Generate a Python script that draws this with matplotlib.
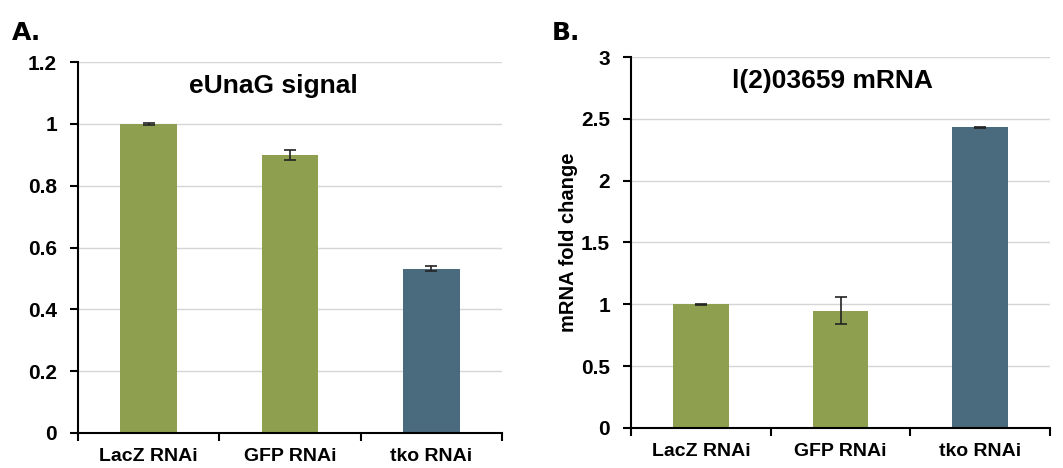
import matplotlib.pyplot as plt
from matplotlib.ticker import FixedLocator

plt.rcParams['font.family'] = ['Liberation Sans', 'DejaVu Sans']
plt.rcParams['font.weight'] = 'bold'

categories = ["LacZ RNAi", "GFP RNAi", "tko RNAi"]

signal_vals = [1.0, 0.90, 0.532]
signal_err = [0.003, 0.016, 0.008]

mrna_vals = [1.0, 0.948, 2.43]
mrna_err = [0.002, 0.11, 0.003]

green = "#8ea04f"
slate = "#4a6a7e"
bar_colors = [green, green, slate]

fig = plt.figure(figsize=(10.63, 4.68), dpi=100)
axA = fig.add_axes([0.0734, 0.0748, 0.3988, 0.7927])
axB = fig.add_axes([0.5936, 0.0855, 0.3942, 0.7927])


def style_axis(ax, vals, errs, ymax, ystep):
    x = list(range(len(vals)))
    ax.bar(x, vals, width=0.4, color=bar_colors, zorder=3)
    ax.errorbar(x, vals, yerr=errs, fmt="none", ecolor="#222222",
                elinewidth=1.2, capsize=4, capthick=1.2, zorder=4)
    ax.set_xlim(-0.5, len(vals) - 0.5)
    ax.set_ylim(0, ymax)
    ticks = [i * ystep for i in range(int(round(ymax / ystep)) + 1)]
    ax.set_yticks(ticks)
    ax.set_yticklabels([("%g" % t) for t in ticks])
    ax.set_xticks(x)
    ax.set_xticklabels(categories)
    ax.xaxis.set_minor_locator(FixedLocator([i - 0.5 for i in range(len(vals) + 1)]))
    ax.tick_params(axis="x", which="major", length=0, pad=11, labelsize=14)
    ax.tick_params(axis="x", which="minor", length=6, width=1.5, direction="out")
    ax.tick_params(axis="y", length=6, width=1.5, direction="out", pad=9, labelsize=15)
    ax.yaxis.grid(True, color="#d6d6d6", linewidth=1, zorder=0)
    ax.set_axisbelow(True)
    for s in ["top", "right"]:
        ax.spines[s].set_visible(False)
    for s in ["left", "bottom"]:
        ax.spines[s].set_linewidth(1.5)
        ax.spines[s].set_zorder(5)


style_axis(axA, signal_vals, signal_err, 1.2, 0.2)
style_axis(axB, mrna_vals, mrna_err, 3.0, 0.5)

axA.text(0.46, 0.935, "eUnaG signal", transform=axA.transAxes,
         ha="center", va="center", fontsize=19, fontweight="bold")
axB.text(0.48, 0.935, "l(2)03659 mRNA", transform=axB.transAxes,
         ha="center", va="center", fontsize=19, fontweight="bold")
axB.set_ylabel("mRNA fold change", fontsize=14.5, fontweight="bold", labelpad=2)

fig.text(0.011, 0.93, "A.", fontsize=18, fontweight="heavy",
         family=["DejaVu Sans"], va="center")
fig.text(0.519, 0.93, "B.", fontsize=18, fontweight="heavy",
         family=["DejaVu Sans"], va="center")

fig.savefig("out.png", dpi=100)
